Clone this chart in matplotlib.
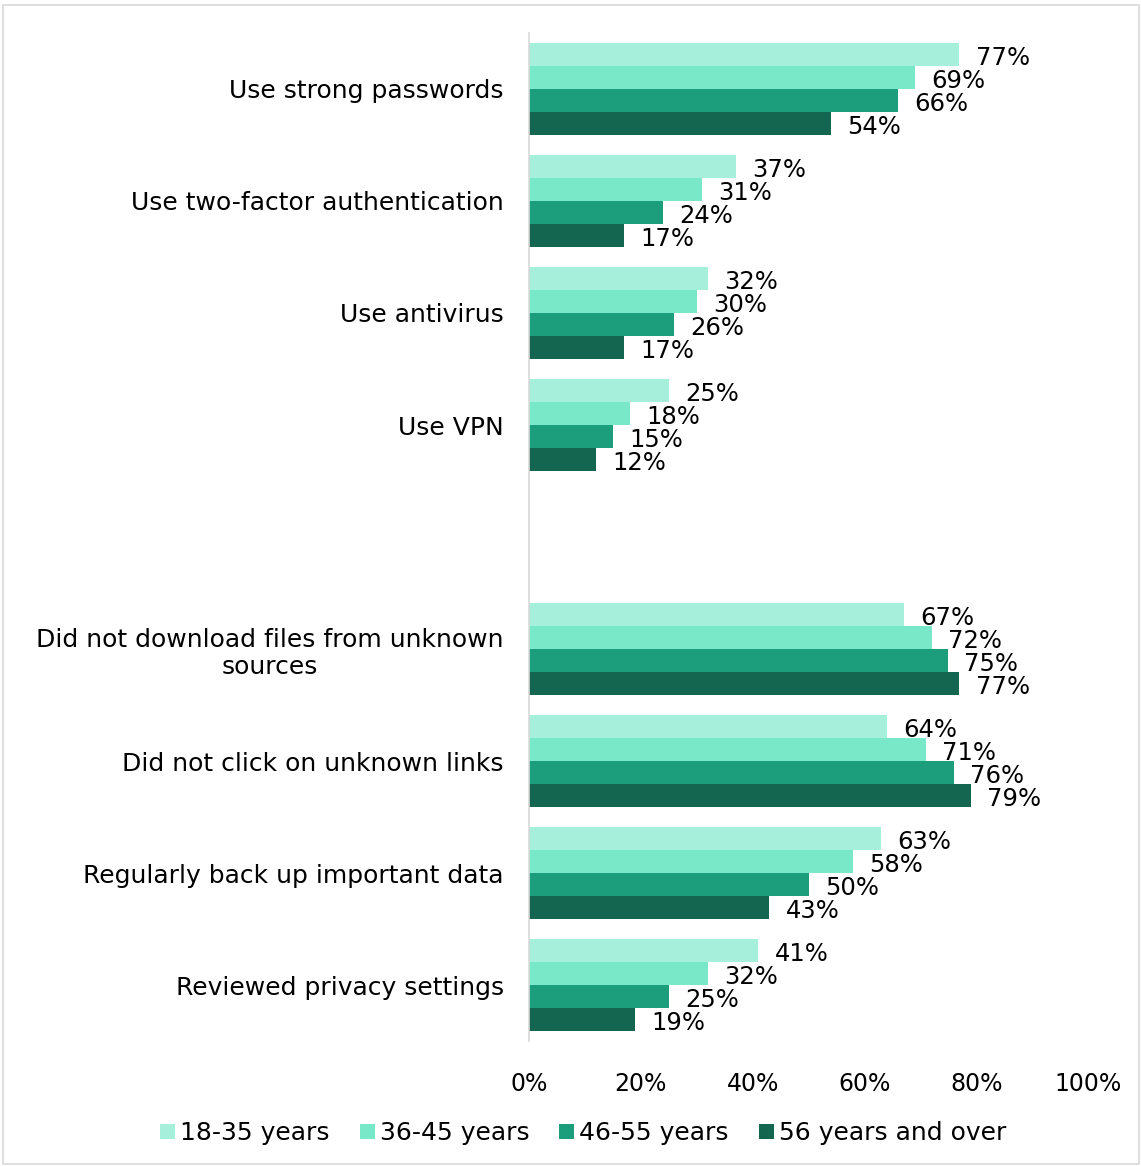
import matplotlib.pyplot as plt
import numpy as np
from matplotlib.patches import Rectangle

categories = [
    "Use strong passwords",
    "Use two-factor authentication",
    "Use antivirus",
    "Use VPN",
    "",
    "Did not download files from unknown\nsources",
    "Did not click on unknown links",
    "Regularly back up important data",
    "Reviewed privacy settings",
]
series_names = ["18-35 years", "36-45 years", "46-55 years", "56 years and over"]
age_18_35 = [77, 37, 32, 25, None, 67, 64, 63, 41]
age_36_45 = [69, 31, 30, 18, None, 72, 71, 58, 32]
age_46_55 = [66, 24, 26, 15, None, 75, 76, 50, 25]
age_56_plus = [54, 17, 17, 12, None, 77, 79, 43, 19]
colors = ["#A6F0DB", "#78E8C8", "#1C9E7C", "#156650"]

plt.rcParams["font.family"] = "DejaVu Sans"

fig = plt.figure(figsize=(11.41, 11.66), dpi=100)
ax = fig.add_axes([0.4636, 0.1072, 0.49, 0.8645])

h = 0.205
y = np.arange(len(categories))
all_series = [age_18_35, age_36_45, age_46_55, age_56_plus]
for k, (vals, name, c) in enumerate(zip(all_series, series_names, colors)):
    offs = (k - 1.5) * h
    ys = [yi + offs for yi, v in zip(y, vals) if v is not None]
    vs = [v for v in vals if v is not None]
    ax.barh(ys, vs, height=h, color=c, label=name)
    for yy, v in zip(ys, vs):
        ax.text(v + 2.9, yy + 0.03, f"{v}%", va="center", ha="left",
                fontsize=17.5, color="#000000")

ax.set_xlim(0, 100)
ax.set_ylim(len(categories) - 0.5, -0.5)
ax.set_xticks([0, 20, 40, 60, 80, 100])
ax.set_xticklabels([f"{t}%" for t in [0, 20, 40, 60, 80, 100]], fontsize=17)
ax.set_yticks(y)
ax.set_yticklabels(categories, fontsize=18, multialignment="center")
ax.tick_params(axis="both", length=0)
ax.tick_params(axis="y", pad=18)
ax.tick_params(axis="x", pad=22)
for s in ["top", "right", "bottom"]:
    ax.spines[s].set_visible(False)
ax.spines["left"].set_color("#D9D9D9")
ax.spines["left"].set_linewidth(1.2)

fig.legend(loc="center", bbox_to_anchor=(0.511, 0.028), ncol=4, frameon=False,
           fontsize=18, handlelength=0.6, handleheight=0.6, handletextpad=0.2,
           columnspacing=1.2)

fig.patches.append(Rectangle((0.003, 0.002), 0.995, 0.994, transform=fig.transFigure,
                             fill=False, edgecolor="#D9D9D9", linewidth=1.2))

fig.savefig("out.png", dpi=100)
